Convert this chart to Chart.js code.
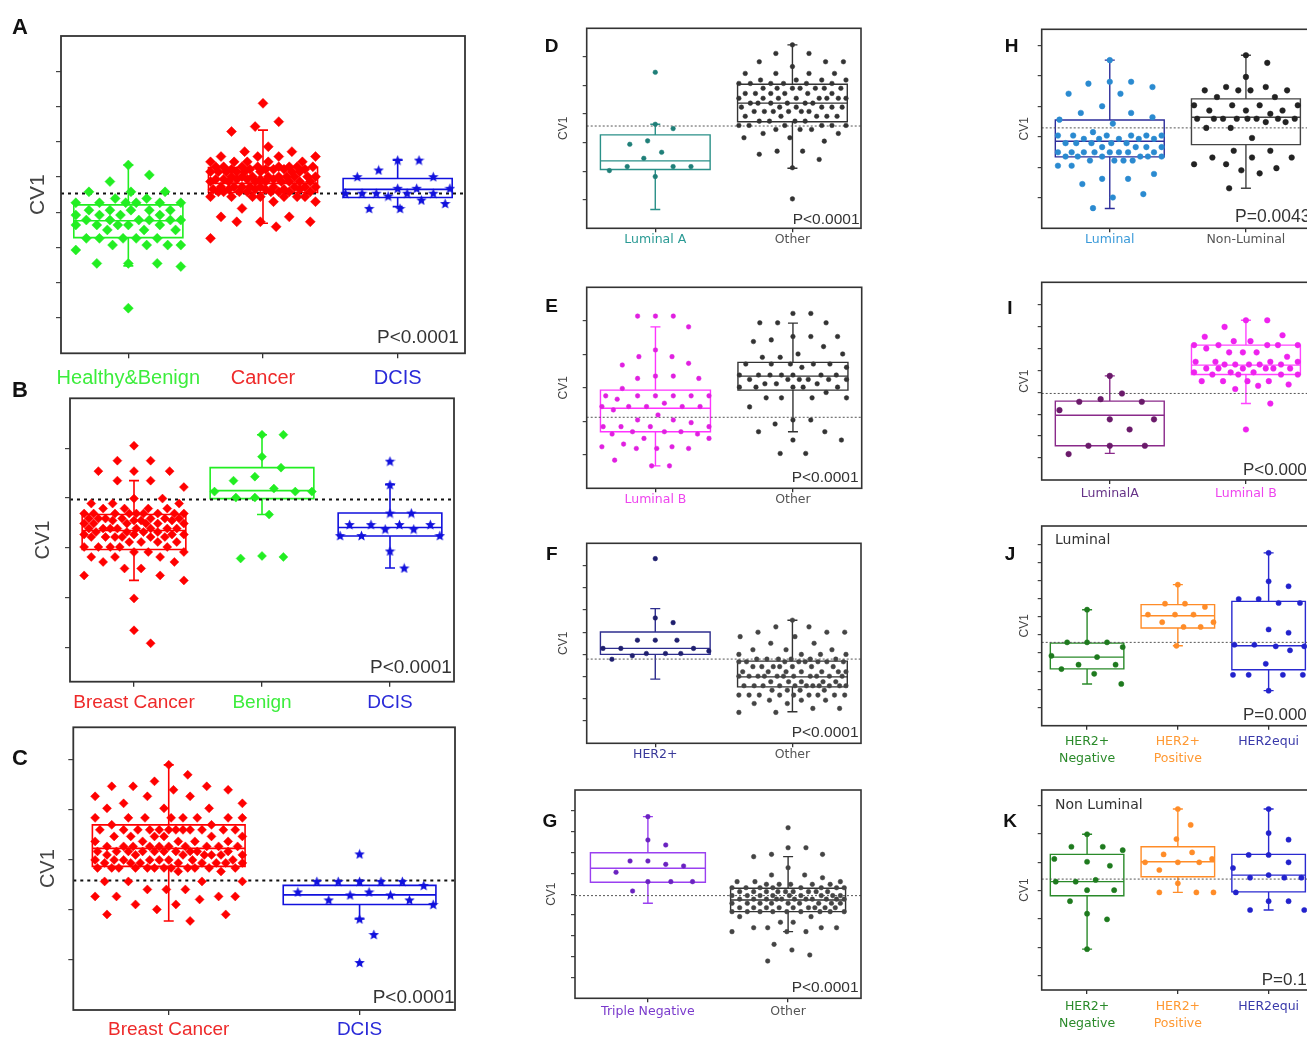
<!DOCTYPE html>
<html>
<head>
<meta charset="utf-8">
<script src="https://cdn.jsdelivr.net/npm/chart.js@4.4.1/dist/chart.umd.min.js"></script>
<style>
  html, body { margin: 0; padding: 0; background: #fff; width: 1307px; height: 1038px; overflow: hidden; }
  body { position: relative; }
  canvas { position: absolute; }
  .letter { position: absolute; font-family: "Liberation Sans", Arial, sans-serif; font-weight: bold; color: #111; line-height: 1; transform: translate(-50%, -50%); }
</style>
</head>
<body>
<script>
// ---- dados (valores de CV1, em unidades de marca do eixo) ----

// A
const aCategories = ['Healthy&Benign', 'Cancer', 'DCIS'];
const aHealthyBenign = [5.34, 5.06, 4.87, 4.58, 4.58, 4.58, 4.39, 4.39, 4.27, 4.27, 4.27, 4.27, 4.27, 4.27,
  4.06, 4.06, 4.06, 4.06, 4.06, 3.92, 3.92, 3.92, 3.92, 3.78, 3.78, 3.78, 3.78, 3.78, 3.78,
  3.64, 3.64, 3.64, 3.64, 3.64, 3.50, 3.50, 3.50, 3.26, 3.26, 3.26, 3.26, 3.26,
  3.07, 3.07, 3.07, 3.07, 2.93, 2.55, 2.55, 2.55, 2.46, 1.28];
const aCancer = [7.09, 6.57, 6.43, 6.29, 5.86, 5.72, 5.72, 5.58, 5.58, 5.58, 5.58,
  5.43, 5.43, 5.43, 5.43, 5.43, 5.29, 5.29, 5.29, 5.29, 5.29, 5.29, 5.29, 5.29,
  5.22, 5.22, 5.22, 5.22, 5.22, 5.22, 5.15, 5.15, 5.15, 5.15, 5.15, 5.15, 5.15, 5.15,
  5.01, 5.01, 5.01, 5.01, 5.01, 5.01, 5.01, 5.01, 5.01, 4.94, 4.94, 4.94, 4.94, 4.94, 4.94,
  4.87, 4.87, 4.87, 4.87, 4.87, 4.87, 4.87, 4.87, 4.72, 4.72, 4.72, 4.72, 4.72, 4.72, 4.72, 4.72, 4.72,
  4.65, 4.65, 4.65, 4.65, 4.65, 4.65, 4.58, 4.58, 4.58, 4.58, 4.58, 4.58, 4.58, 4.58,
  4.44, 4.44, 4.44, 4.44, 4.44, 4.44, 4.44, 4.30, 4.30, 4.11, 3.87, 3.87, 3.73, 3.73, 3.73, 3.59, 3.26];
const aDCIS = [5.48, 5.48, 5.20, 5.01, 5.01, 4.68, 4.68, 4.68, 4.54, 4.54, 4.54, 4.54, 4.54, 4.46, 4.35, 4.25, 4.11, 4.11];
// caixas: [Q1, mediana, Q3, bigode inferior, bigode superior]
const aBoxes = [[3.28, 3.76, 4.21, 2.48, 5.34], [4.56, 4.82, 5.27, 3.69, 6.33], [4.42, 4.65, 4.96, 4.16, 5.48]];
const aCutoff = 4.53;
const aTicks = [1, 2, 3, 4, 5, 6, 7, 8];
const aP = 'P<0.0001';

// B
const bCategories = ['Breast Cancer', 'Benign', 'DCIS'];
const bBreastCancer = [5.05, 4.75, 4.75, 4.54, 4.54, 4.54, 4.35, 4.35, 4.22, 3.99, 3.99, 3.89, 3.89, 3.89,
  3.79, 3.79, 3.79, 3.79, 3.69, 3.69, 3.69, 3.69, 3.69, 3.69, 3.69, 3.69, 3.69,
  3.59, 3.59, 3.59, 3.59, 3.59, 3.59, 3.59, 3.55, 3.55, 3.55, 3.55, 3.49, 3.49, 3.49, 3.49, 3.49, 3.49,
  3.39, 3.39, 3.39, 3.39, 3.39, 3.39, 3.39, 3.39, 3.32, 3.32, 3.32, 3.32, 3.27, 3.27, 3.27, 3.27,
  3.22, 3.22, 3.22, 3.22, 3.22, 3.22, 3.12, 3.12, 3.12, 3.12, 3.02, 3.02, 3.02, 3.02, 3.02,
  2.92, 2.92, 2.92, 2.82, 2.82, 2.82, 2.72, 2.72, 2.59, 2.59, 2.45, 2.45, 2.35, 1.99, 1.35, 1.09];
const bBenign = [5.27, 5.27, 4.83, 4.61, 4.43, 4.35, 4.19, 4.13, 4.13, 4.13, 4.01, 4.01, 3.67, 2.84, 2.82, 2.79];
const bDCIS = [4.74, 4.27, 3.70, 3.70, 3.47, 3.47, 3.47, 3.47, 3.38, 3.38, 3.25, 3.25, 3.25, 2.94, 2.60];
const bBoxes = [[2.97, 3.35, 3.67, 2.35, 4.35], [3.99, 4.15, 4.61, 3.67, 5.27], [3.24, 3.41, 3.70, 2.60, 4.27]];
const bCutoff = 3.97;
const bTicks = [1, 2, 3, 4, 5];
const bP = 'P<0.0001';

// C
const cCategories = ['Breast Cancer', 'DCIS'];
const cBreastCancer = [4.90, 4.70, 4.57, 4.47, 4.47, 4.47, 4.40, 4.40, 4.27, 4.27, 4.27, 4.13, 4.13, 4.03, 4.03, 4.03,
  3.84, 3.84, 3.84, 3.84, 3.84, 3.84, 3.84, 3.84, 3.70, 3.70,
  3.60, 3.60, 3.60, 3.60, 3.60, 3.60, 3.60, 3.60, 3.60, 3.60, 3.60, 3.60,
  3.47, 3.47, 3.47, 3.47, 3.47, 3.47, 3.37, 3.37, 3.37, 3.37, 3.37,
  3.27, 3.27, 3.27, 3.27, 3.27, 3.27, 3.27, 3.27, 3.27, 3.27, 3.17, 3.17, 3.17, 3.17, 3.17, 3.17, 3.17, 3.17, 3.17, 3.17,
  3.10, 3.10, 3.10, 3.10, 3.10, 3.10, 3.10, 3.00, 3.00, 3.00, 3.00, 3.00, 3.00, 3.00, 3.00,
  2.94, 2.94, 2.94, 2.94, 2.94, 2.94, 2.94, 2.94,
  2.84, 2.84, 2.84, 2.84, 2.84, 2.84, 2.84, 2.84, 2.84, 2.84, 2.84, 2.84, 2.77, 2.77,
  2.57, 2.57, 2.57, 2.57, 2.41, 2.41, 2.41, 2.27, 2.27, 2.27, 2.27, 2.21, 2.11, 2.11, 2.01, 1.91, 1.91, 1.78];
const cDCIS = [3.12, 2.57, 2.57, 2.57, 2.57, 2.57, 2.49, 2.36, 2.36, 2.30, 2.30, 2.20, 2.20, 2.11, 1.82, 1.51, 0.95];
const cBoxes = [[2.87, 3.23, 3.70, 1.78, 4.90], [2.11, 2.30, 2.49, 1.82, 2.59]];
const cCutoff = 2.59;
const cTicks = [1, 2, 3, 4, 5];
const cP = 'P<0.0001';

// D
const dCategories = ['Luminal A', 'Other'];
const dLuminalA = [5.46, 3.64, 3.49, 3.06, 2.94, 2.66, 2.45, 2.16, 2.16, 2.16, 2.02, 1.81];
const dOther = [6.42, 6.12, 6.12, 5.83, 5.83, 5.83, 5.66, 5.42, 5.42, 5.42, 5.42, 5.19, 5.19, 5.19, 5.19,
  5.07, 5.07, 5.07, 5.07, 5.07, 5.07, 4.90, 4.90, 4.90, 4.90, 4.90, 4.90, 4.90,
  4.72, 4.72, 4.72, 4.72, 4.72, 4.72, 4.55, 4.55, 4.55, 4.55, 4.55, 4.55, 4.55, 4.55,
  4.38, 4.38, 4.38, 4.38, 4.38, 4.38, 4.24, 4.24, 4.24, 4.24, 4.24, 4.24, 4.09, 4.09, 4.09, 4.09, 4.09, 4.09,
  3.92, 3.92, 3.92, 3.92, 3.92, 3.75, 3.75, 3.75, 3.75, 3.60, 3.60, 3.60, 3.60, 3.60, 3.60,
  3.46, 3.46, 3.46, 3.32, 3.32, 3.17, 3.17, 3.05, 2.70, 2.70, 2.59, 2.41, 2.12, 1.03];
const dBoxes = [[2.06, 2.36, 3.27, 0.66, 3.64], [3.73, 4.38, 5.04, 2.10, 6.42]];
const dCutoff = 3.58;
const dTicks = [1, 2, 3, 4, 5, 6];
const dP = 'P<0.0001';

// E
const eCategories = ['Luminal B', 'Other'];
const eLuminalB = [5.14, 5.14, 5.14, 4.82, 4.13, 3.93, 3.93, 3.73, 3.68, 3.35, 3.35, 3.28, 3.28, 2.98,
  2.76, 2.76, 2.76, 2.76, 2.76, 2.76, 2.66, 2.54, 2.44, 2.44, 2.44, 2.44, 2.44, 2.34, 2.19, 2.04, 2.04, 1.96,
  1.84, 1.84, 1.84, 1.84, 1.69, 1.69, 1.69, 1.62, 1.62, 1.49, 1.49, 1.32, 1.24, 1.24, 1.19, 1.19, 1.19, 0.84, 0.67, 0.67];
const eOther = [5.22, 5.22, 4.94, 4.94, 4.94, 4.53, 4.53, 4.53, 4.43, 4.38, 4.23, 4.01, 4.01, 3.91, 3.91,
  3.71, 3.71, 3.71, 3.71, 3.71, 3.61, 3.61, 3.38, 3.38, 3.38, 3.38, 3.38, 3.38, 3.38,
  3.25, 3.25, 3.25, 3.25, 3.25, 3.25, 3.12, 3.12, 3.12, 3.02, 3.02, 3.02, 3.02, 3.02, 2.86,
  2.70, 2.70, 2.70, 2.70, 2.43, 2.04, 2.04, 1.92, 1.69, 1.69, 1.44, 1.44, 1.04, 1.04];
const eBoxes = [[1.69, 2.39, 2.93, 0.67, 4.82], [2.93, 3.35, 3.76, 1.69, 4.93]];
const eCutoff = 2.12;
const eTicks = [1, 2, 3, 4, 5];
const eP = 'P<0.0001';

// F
const fCategories = ['HER2+', 'Other'];
const fHER2 = [8.31, 5.64, 5.43, 4.64, 4.64, 4.64, 4.27, 4.27, 4.27, 4.15, 4.04, 4.04, 4.04, 3.94, 3.78];
const fOther = [5.54, 5.24, 5.24, 5.00, 5.00, 5.00, 4.80, 4.80, 4.50, 4.50, 4.21, 4.21, 4.21, 4.00, 4.00, 4.00, 4.00,
  3.79, 3.79, 3.79, 3.79, 3.79, 3.79, 3.67, 3.67, 3.67, 3.67, 3.67, 3.67, 3.67, 3.67,
  3.45, 3.45, 3.45, 3.45, 3.45, 3.45, 3.45, 3.22, 3.22, 3.22, 3.22, 3.22, 3.22, 3.22,
  3.02, 3.02, 3.02, 3.02, 3.02, 3.02, 3.02, 3.02, 3.02, 3.02, 3.02, 2.77, 2.77, 2.77, 2.77, 2.77,
  2.59, 2.59, 2.59, 2.59, 2.59, 2.59, 2.59, 2.59, 2.59, 2.59, 2.59, 2.39, 2.39, 2.39, 2.39,
  2.17, 2.17, 2.17, 2.17, 2.17, 2.17, 2.17, 2.17, 2.17, 1.94, 1.94, 1.94, 1.79, 1.79, 1.57, 1.57, 1.39, 1.39];
const fBoxes = [[4.00, 4.27, 5.01, 2.89, 6.06], [2.54, 2.99, 3.70, 1.42, 5.54]];
const fCutoff = 3.79;
const fTicks = [1, 2, 3, 4, 5, 6, 7, 8];
const fP = 'P<0.0001';

// G
const gCategories = ['Triple Negative', 'Other'];
const gTripleNegative = [8.72, 7.60, 7.36, 6.59, 6.59, 6.43, 6.35, 6.05, 5.60, 5.60, 5.60, 5.15];
const gOther = [8.19, 7.23, 7.23, 6.91, 6.91, 6.80, 6.27, 5.92, 5.92, 5.79, 5.60, 5.60, 5.60,
  5.47, 5.47, 5.47, 5.47, 5.47, 5.31, 5.31, 5.31, 5.31, 5.31, 5.31, 5.31, 5.31,
  5.12, 5.12, 5.12, 5.12, 5.12, 5.12, 5.12, 5.12, 5.12, 4.93, 4.93, 4.93, 4.93, 4.93, 4.93, 4.93, 4.93, 4.93,
  4.76, 4.76, 4.76, 4.76, 4.76, 4.76, 4.76, 4.76, 4.76, 4.76, 4.76, 4.56, 4.56, 4.56, 4.56, 4.56, 4.56, 4.56, 4.56, 4.56,
  4.35, 4.35, 4.35, 4.35, 4.35, 4.35, 4.35, 4.35, 4.35, 4.16, 4.16, 4.16, 4.16, 4.16, 4.16, 4.16, 4.16, 4.16,
  3.92, 3.92, 3.65, 3.65, 3.39, 3.39, 3.39, 3.39, 3.20, 3.20, 3.20, 2.59, 2.32, 2.08, 1.79];
const gBoxes = [[5.57, 6.24, 6.99, 4.56, 8.72], [4.16, 4.72, 5.28, 3.20, 6.80]];
const gCutoff = 4.93;
const gTicks = [1, 2, 3, 4, 5, 6, 7, 8, 9];
const gP = 'P<0.0001';

// H
const hCategories = ['Luminal', 'Non-Luminal'];
const hLuminal = [5.51, 4.80, 4.80, 4.74, 4.63, 4.41, 4.41, 4.00, 3.78, 3.78, 3.64, 3.56, 3.43, 3.15,
  3.04, 3.04, 3.04, 3.04, 3.04, 3.04, 2.93, 2.93, 2.93, 2.93, 2.93, 2.79, 2.79, 2.79, 2.79, 2.79,
  2.66, 2.66, 2.66, 2.66, 2.49, 2.49, 2.49, 2.49, 2.49, 2.49, 2.49, 2.49, 2.35, 2.35, 2.35, 2.35, 2.35, 2.35,
  2.22, 2.22, 2.22, 2.22, 2.05, 2.05, 1.78, 1.62, 1.62, 1.45, 1.12, 1.01, 0.66];
const hNonLuminal = [5.67, 5.42, 4.96, 4.63, 4.63, 4.52, 4.52, 4.52, 4.52, 4.30, 4.30, 4.03, 4.03, 4.03, 4.03,
  3.86, 3.86, 3.86, 3.75, 3.59, 3.59, 3.59, 3.59, 3.59, 3.59, 3.59, 3.59, 3.48, 3.48, 3.29, 3.29,
  2.96, 2.54, 2.54, 2.32, 2.32, 2.32, 2.10, 2.10, 1.97, 1.90, 1.80, 1.31];
const hBoxes = [[2.34, 2.85, 3.55, 0.65, 5.51], [2.74, 3.64, 4.24, 1.31, 5.67]];
const hCutoff = 3.29;
const hTicks = [1, 2, 3, 4, 5, 6];
const hP = 'P=0.0043';

// I
const iCategories = ['LuminalA', 'Luminal B'];
const iLuminalA = [4.74, 3.94, 3.68, 3.56, 3.56, 3.18, 2.76, 2.76, 2.30, 1.56, 1.56, 1.56, 1.18];
const iLuminalB = [7.27, 7.27, 6.97, 6.59, 6.52, 6.32, 6.32, 6.14, 6.14, 6.14, 6.14, 6.14, 5.99, 5.81, 5.81, 5.81, 5.61,
  5.38, 5.38, 5.38, 5.38, 5.26, 5.26, 5.26, 5.26, 5.26, 5.08, 5.08, 5.08, 5.08, 5.08, 5.08,
  4.90, 4.90, 4.90, 4.80, 4.80, 4.80, 4.80, 4.50, 4.50, 4.50, 4.50, 4.35, 4.29, 4.14, 3.48, 2.30];
const iBoxes = [[1.56, 2.95, 3.59, 1.21, 4.74], [4.80, 5.23, 6.14, 3.48, 7.27]];
const iCutoff = 3.94;
const iTicks = [1, 2, 3, 4, 5, 6, 7, 8];
const iP = 'P<0.0001';

// J (Luminal)
const jCategories = [['HER2+', 'Negative'], ['HER2+', 'Positive'], 'HER2equi'];
const jNegative = [6.39, 4.59, 4.59, 4.59, 4.33, 3.85, 3.78, 3.36, 3.36, 3.12, 2.86, 2.30];
const jPositive = [7.77, 6.72, 6.72, 6.54, 6.12, 6.12, 6.12, 5.70, 5.70, 5.44, 5.44, 4.40];
const jEqui = [9.52, 7.95, 7.68, 6.98, 6.98, 6.76, 6.76, 5.30, 5.12, 4.46, 4.46, 4.37, 4.37, 4.15, 3.41, 2.80, 2.80, 2.80, 2.80, 1.93];
const jBoxes = [[3.13, 3.78, 4.55, 2.30, 6.39], [5.38, 6.06, 6.67, 4.40, 7.77], [3.08, 4.40, 6.85, 1.93, 9.52]];
const jCutoff = 4.59;
const jTicks = [1, 2, 3, 4, 5, 6, 7, 8, 9, 10];
const jP = 'P=0.0007';

// K (Non Luminal)
const kCategories = [['HER2+', 'Negative'], ['HER2+', 'Positive'], 'HER2equi'];
const kNegative = [5.99, 5.55, 5.55, 5.43, 5.12, 5.02, 4.88, 4.38, 4.32, 4.32, 4.02, 4.02, 3.63, 3.19, 2.99, 1.94];
const kPositive = [6.88, 6.32, 5.82, 5.35, 5.28, 5.12, 5.00, 5.00, 5.00, 4.73, 4.26, 3.94, 3.94, 3.94];
const kEqui = [6.88, 6.03, 5.80, 5.26, 5.26, 5.00, 4.80, 4.55, 4.46, 4.46, 4.46, 3.94, 3.63, 3.63, 3.32, 3.32];
const kBoxes = [[3.82, 4.32, 5.28, 1.94, 5.99], [4.49, 5.02, 5.55, 3.94, 6.88], [3.96, 4.55, 5.28, 3.32, 6.88]];
const kCutoff = 4.41;
const kTicks = [1, 2, 3, 4, 5, 6, 7];
const kP = 'P=0.16';

// ---- estilos comuns ----
const SANS = '"Liberation Sans", Arial, sans-serif';
const DEJA = '"DejaVu Sans", sans-serif';
const RED = '#ff0000', GREEN = '#22ee22', BLUE = '#1111dd';
const GREY = '#333333';
const cutBig = { color: '#111', width: 2, dash: [3, 4] };
const cutSmall = { color: '#555', width: 1, dash: [2, 2] };

// estrela preenchida (o "star" do Chart.js é só traço)
function starImage(color, size) {
  const c = document.createElement('canvas');
  c.width = size; c.height = size;
  const g = c.getContext('2d');
  g.fillStyle = color;
  g.beginPath();
  for (let k = 0; k < 10; k++) {
    const r = k % 2 ? size * 0.22 : size * 0.5;
    const a = -Math.PI / 2 + k * Math.PI / 5;
    g.lineTo(size / 2 + r * Math.cos(a), size / 2 + r * Math.sin(a) + size * 0.05);
  }
  g.closePath();
  g.fill();
  return c;
}

// espalha os pontos na horizontal (beeswarm simples), devolve deslocamentos em px
function swarm(values, radius, pxY, halfPx, spread) {
  const d = radius * 2 + 0.5;
  const cap = d * spread;
  const step = Math.max(1, d / 4);
  const cands = [0];
  for (let o = step; o <= halfPx; o += step) cands.push(o, -o);
  const placed = [];
  const offs = new Array(values.length);
  const order = values.map((v, i) => i).sort((a, b) => values[b] - values[a] || a - b);
  order.forEach(i => {
    const py = values[i] * pxY;
    let best = 0, bestScore = -1;
    for (const c of cands) {
      let m = Infinity;
      for (const q of placed) {
        const dy = q.y - py;
        if (Math.abs(dy) >= cap) continue;
        const dx = q.x - c;
        const dist = Math.sqrt(dx * dx + dy * dy);
        if (dist < m) m = dist;
      }
      const score = Math.min(m, cap);
      if (score > bestScore + 0.01) { bestScore = score; best = c; }
      if (score >= cap) break;
    }
    placed.push({ x: best, y: py });
    offs[i] = best;
  });
  return offs;
}

function addPanel(p) {
  const [cx, cy, cw, ch] = p.canvas;
  const [pl, pt, pr, pb] = p.plot;
  const cv = document.createElement('canvas');
  cv.width = cw; cv.height = ch;
  cv.style.left = cx + 'px';
  cv.style.top = cy + 'px';
  document.body.appendChild(cv);

  const letter = document.createElement('div');
  letter.className = 'letter';
  letter.textContent = p.letter;
  letter.style.left = p.letterAt[0] + 'px';
  letter.style.top = p.letterAt[1] + 'px';
  letter.style.fontSize = p.letterSize + 'px';
  document.body.appendChild(letter);

  const [xMin, xMax] = p.xRange;
  const [yMin, yMax] = p.yRange;
  const pxX = (pr - pl) / (xMax - xMin);
  const pxY = (pb - pt) / (yMax - yMin);
  const halfBox = p.boxWidth / 2;

  const datasets = p.groups.map((g, i) => {
    const offs = swarm(g.values, g.radius, pxY, halfBox * pxX - g.radius * 0.4, p.spread);
    return {
      type: 'scatter',
      data: g.values.map((v, k) => ({ x: i + 1 + offs[k] / pxX, y: v })),
      pointStyle: g.style === 'star' ? starImage(g.color, Math.round(g.radius * 2.5)) : g.style,
      pointRadius: g.radius,
      pointBackgroundColor: g.color,
      pointBorderColor: g.color,
      backgroundColor: g.color,
      borderColor: g.color,
      pointBorderWidth: 0.5,
      order: 1
    };
  });
  datasets.push({
    type: 'line',
    data: [{ x: xMin, y: p.cutoff }, { x: xMax, y: p.cutoff }],
    borderColor: p.cut.color,
    borderWidth: p.cut.width,
    borderDash: p.cut.dash,
    pointRadius: 0,
    fill: false,
    order: 5
  });

  const boxPlugin = {
    id: 'boxes' + p.letter,
    beforeDatasetsDraw(chart) {
      const { ctx, scales: { x, y } } = chart;
      ctx.save();
      ctx.lineWidth = p.boxLine;
      p.groups.forEach((g, i) => {
        const [q1, med, q3, lo, hi] = g.box;
        const c = x.getPixelForValue(i + 1);
        const hw = x.getPixelForValue(i + 1 + halfBox) - c;
        const cap = p.capW / 2;
        const Y = v => y.getPixelForValue(v);
        ctx.strokeStyle = g.boxColor;
        ctx.beginPath();
        ctx.rect(c - hw, Y(q3), 2 * hw, Y(q1) - Y(q3));
        ctx.moveTo(c - hw, Y(med)); ctx.lineTo(c + hw, Y(med));
        ctx.moveTo(c, Y(q3)); ctx.lineTo(c, Y(hi));
        ctx.moveTo(c - cap, Y(hi)); ctx.lineTo(c + cap, Y(hi));
        ctx.moveTo(c, Y(q1)); ctx.lineTo(c, Y(lo));
        ctx.moveTo(c - cap, Y(lo)); ctx.lineTo(c + cap, Y(lo));
        ctx.stroke();
      });
      ctx.restore();
    }
  };

  const framePlugin = {
    id: 'frame' + p.letter,
    afterDatasetsDraw(chart) {
      const { ctx, chartArea: a } = chart;
      ctx.save();
      ctx.strokeStyle = '#333';
      ctx.lineWidth = p.frameLine;
      ctx.strokeRect(a.left, a.top, a.right - a.left, a.bottom - a.top);
      ctx.restore();
    }
  };

  const textPlugin = {
    id: 'texts' + p.letter,
    afterDraw(chart) {
      const ctx = chart.ctx;
      ctx.save();
      ctx.fillStyle = '#333';
      ctx.textAlign = 'left';
      ctx.textBaseline = 'alphabetic';
      ctx.font = p.pSize + 'px ' + SANS;
      ctx.fillText(p.pText, p.pAt[0] - cx, p.pAt[1] - cy);
      if (p.subtitle) {
        ctx.font = '14px ' + DEJA;
        ctx.textBaseline = 'middle';
        ctx.fillText(p.subtitle, p.subAt[0] - cx, p.subAt[1] - cy);
      }
      ctx.restore();
    }
  };

  const lh = p.labelLine || 1.2;
  new Chart(cv, {
    type: 'scatter',
    data: { datasets },
    options: {
      responsive: false,
      animation: false,
      events: [],
      layout: { padding: { left: 0, top: pt - cy, right: cx + cw - pr, bottom: 0 } },
      plugins: { legend: { display: false }, tooltip: { enabled: false } },
      scales: {
        x: {
          type: 'linear', min: xMin, max: xMax,
          afterBuildTicks: s => { s.ticks = p.cats.map((c, i) => ({ value: i + 1 })); },
          afterFit: s => { s.height = ch - (pb - cy); },
          grid: { drawOnChartArea: false, drawTicks: true, tickLength: p.tickLen, color: '#333', lineWidth: 1.3 },
          border: { display: false },
          ticks: {
            autoSkip: false, maxRotation: 0, minRotation: 0,
            padding: p.labelY - pb - p.tickLen - p.labelSize * lh / 2,
            font: { family: p.labelFamily, size: p.labelSize, lineHeight: lh },
            color: ctx => p.catColors[ctx.index],
            callback: (v, i) => p.cats[i]
          }
        },
        y: {
          type: 'linear', min: yMin, max: yMax,
          afterBuildTicks: s => { s.ticks = p.yTicks.map(v => ({ value: v })); },
          afterFit: s => { s.width = pl - cx; },
          grid: { drawOnChartArea: false, drawTicks: true, tickLength: p.tickLen, color: '#444', lineWidth: 1.2 },
          border: { display: false },
          ticks: { display: false },
          title: {
            display: true, text: 'CV1', color: '#444',
            font: { family: SANS, size: p.cvSize },
            padding: { top: p.cvX - cx - p.cvSize * 0.6, bottom: 0 }
          }
        }
      }
    },
    plugins: [boxPlugin, framePlugin, textPlugin]
  });
}

// ---- painéis ----
const bigPanel = { boxLine: 1.6, frameLine: 1.8, tickLen: 5, capW: 10, labelFamily: SANS, labelSize: 19, pSize: 19, cut: cutBig, letterSize: 22, spread: 2.2 };
const smallPanel = { boxLine: 1.4, frameLine: 1.6, tickLen: 4, capW: 10, labelFamily: DEJA, labelSize: 12.5, pSize: 15.5, cut: cutSmall, letterSize: 19, cvSize: 12, spread: 3.5 };

addPanel(Object.assign({}, bigPanel, {
  letter: 'A', letterAt: [20, 27], canvas: [0, 20, 480, 380], plot: [61, 36, 465, 353.3],
  xRange: [0.5, 3.5], yRange: [0, 9], yTicks: aTicks, cutoff: aCutoff, boxWidth: 0.81,
  cats: aCategories, catColors: ['#3ced3c', '#ee2a2a', '#2a2ad8'], labelSize: 20, labelY: 378,
  cvX: 38, cvSize: 21, pText: aP, pAt: [377, 343],
  groups: [
    { values: aHealthyBenign, box: aBoxes[0], color: GREEN, boxColor: GREEN, style: 'rectRot', radius: 5 },
    { values: aCancer, box: aBoxes[1], color: RED, boxColor: RED, style: 'rectRot', radius: 5 },
    { values: aDCIS, box: aBoxes[2], color: BLUE, boxColor: BLUE, style: 'star', radius: 4.5 }
  ]
}));

addPanel(Object.assign({}, bigPanel, {
  letter: 'B', letterAt: [20, 390], canvas: [0, 392, 470, 330], plot: [70, 398.3, 454, 681.7],
  xRange: [0.5, 3.5], yRange: [0.32, 6], yTicks: bTicks, cutoff: bCutoff, boxWidth: 0.81,
  cats: bCategories, catColors: ['#ee2a2a', '#3ced3c', '#2a2ad8'], labelY: 702.7,
  cvX: 43, cvSize: 20, pText: bP, pAt: [370, 673],
  groups: [
    { values: bBreastCancer, box: bBoxes[0], color: RED, boxColor: RED, style: 'rectRot', radius: 4.5 },
    { values: bBenign, box: bBoxes[1], color: GREEN, boxColor: GREEN, style: 'rectRot', radius: 4.5 },
    { values: bDCIS, box: bBoxes[2], color: BLUE, boxColor: BLUE, style: 'star', radius: 4.5 }
  ]
}));

addPanel(Object.assign({}, bigPanel, {
  letter: 'C', letterAt: [20, 758], canvas: [0, 722, 470, 330], plot: [73.3, 727.3, 455, 1010],
  xRange: [0.5, 2.5], yRange: [0, 5.65], yTicks: cTicks, cutoff: cCutoff, boxWidth: 0.8,
  cats: cCategories, catColors: ['#ee2a2a', '#2a2ad8'], labelY: 1030,
  cvX: 48, cvSize: 20, pText: cP, pAt: [372.7, 1003],
  groups: [
    { values: cBreastCancer, box: cBoxes[0], color: RED, boxColor: RED, style: 'rectRot', radius: 4.5 },
    { values: cDCIS, box: cBoxes[1], color: BLUE, boxColor: BLUE, style: 'star', radius: 4.5 }
  ]
}));

addPanel(Object.assign({}, smallPanel, {
  letter: 'D', letterAt: [551.7, 45], canvas: [540, 22, 335, 240], plot: [586.7, 28.3, 861, 228.3],
  xRange: [0.5, 2.5], yRange: [0, 7], yTicks: dTicks, cutoff: dCutoff, boxWidth: 0.8,
  cats: dCategories, catColors: ['#2a9a94', '#555'], labelY: 240,
  cvX: 563.3, pText: dP, pAt: [792.7, 224],
  groups: [
    { values: dLuminalA, box: dBoxes[0], color: '#1f7f78', boxColor: '#2a9088', style: 'circle', radius: 2.3 },
    { values: dOther, box: dBoxes[1], color: GREY, boxColor: GREY, style: 'circle', radius: 2.3 }
  ]
}));

addPanel(Object.assign({}, smallPanel, {
  letter: 'E', letterAt: [551.7, 305], canvas: [540, 282, 335, 240], plot: [586.7, 287.3, 861.7, 488.3],
  xRange: [0.5, 2.5], yRange: [0, 6], yTicks: eTicks, cutoff: eCutoff, boxWidth: 0.8,
  cats: eCategories, catColors: ['#ee44ee', '#555'], labelY: 500,
  cvX: 563.3, pText: eP, pAt: [791.7, 481.7],
  groups: [
    { values: eLuminalB, box: eBoxes[0], color: '#e020e0', boxColor: '#ff33ff', style: 'circle', radius: 2.3 },
    { values: eOther, box: eBoxes[1], color: GREY, boxColor: GREY, style: 'circle', radius: 2.3 }
  ]
}));

addPanel(Object.assign({}, smallPanel, {
  letter: 'F', letterAt: [551.7, 553], canvas: [540, 538, 335, 240], plot: [586.7, 543.3, 861, 743.3],
  xRange: [0.5, 2.5], yRange: [0, 9], yTicks: fTicks, cutoff: fCutoff, boxWidth: 0.8,
  cats: fCategories, catColors: ['#3a3a9a', '#555'], labelY: 755,
  cvX: 563.3, pText: fP, pAt: [791.7, 736.7],
  groups: [
    { values: fHER2, box: fBoxes[0], color: '#1f1f6e', boxColor: '#2e2e8e', style: 'circle', radius: 2.3 },
    { values: fOther, box: fBoxes[1], color: '#444', boxColor: GREY, style: 'circle', radius: 2.3 }
  ]
}));

addPanel(Object.assign({}, smallPanel, {
  letter: 'G', letterAt: [550, 820], canvas: [530, 785, 345, 245], plot: [575, 790, 861, 998.3],
  xRange: [0.48, 2.52], yRange: [0, 10], yTicks: gTicks, cutoff: gCutoff, boxWidth: 0.82,
  cats: gCategories, catColors: ['#7a3acc', '#555'], labelY: 1011.7,
  cvX: 551.7, pText: gP, pAt: [791.7, 992.3],
  groups: [
    { values: gTripleNegative, box: gBoxes[0], color: '#6a22c0', boxColor: '#9a40f0', style: 'circle', radius: 2.3 },
    { values: gOther, box: gBoxes[1], color: '#444', boxColor: GREY, style: 'circle', radius: 2.3 }
  ]
}));

addPanel(Object.assign({}, smallPanel, {
  letter: 'H', letterAt: [1011.7, 45], canvas: [1000, 24, 335, 240], plot: [1041.7, 29.3, 1314, 228.3],
  xRange: [0.5, 2.5], yRange: [0, 6.52], yTicks: hTicks, cutoff: hCutoff, boxWidth: 0.8,
  cats: hCategories, catColors: ['#3a9ad9', '#555'], labelY: 240,
  cvX: 1025, pText: hP, pAt: [1235, 221.7], pSize: 17.5,
  groups: [
    { values: hLuminal, box: hBoxes[0], color: '#2a8ad0', boxColor: '#2d2d9a', style: 'circle', radius: 2.8 },
    { values: hNonLuminal, box: hBoxes[1], color: '#222', boxColor: '#444', style: 'circle', radius: 2.8 }
  ]
}));

addPanel(Object.assign({}, smallPanel, {
  letter: 'I', letterAt: [1010, 306.7], canvas: [1000, 277, 335, 240], plot: [1041.7, 282.3, 1314, 480],
  xRange: [0.5, 2.5], yRange: [0, 9], yTicks: iTicks, cutoff: iCutoff, boxWidth: 0.8,
  cats: iCategories, catColors: ['#663388', '#ee44ee'], labelY: 494,
  cvX: 1025, pText: iP, pAt: [1243, 475], pSize: 17,
  groups: [
    { values: iLuminalA, box: iBoxes[0], color: '#6a1a6a', boxColor: '#8a2a8a', style: 'circle', radius: 2.8 },
    { values: iLuminalB, box: iBoxes[1], color: '#ee22ee', boxColor: '#ff44ff', style: 'circle', radius: 2.8 }
  ]
}));

addPanel(Object.assign({}, smallPanel, {
  letter: 'J', letterAt: [1010, 553], canvas: [1000, 521, 335, 250], plot: [1041.7, 526, 1314, 725.7],
  xRange: [0.5, 3.5], yRange: [0, 11], yTicks: jTicks, cutoff: jCutoff, boxWidth: 0.81,
  cats: jCategories, catColors: ['#2a8a2a', '#ff9933', '#3a3aaa'], labelY: 741.7, labelLine: 1.33,
  cvX: 1025, pText: jP, pAt: [1243, 720], pSize: 17,
  subtitle: 'Luminal', subAt: [1055, 540],
  groups: [
    { values: jNegative, box: jBoxes[0], color: '#1e7a1e', boxColor: '#2a8a2a', style: 'circle', radius: 2.6 },
    { values: jPositive, box: jBoxes[1], color: '#ff8c28', boxColor: '#ff8c28', style: 'circle', radius: 2.6 },
    { values: jEqui, box: jBoxes[2], color: '#2222cc', boxColor: '#2a2ad0', style: 'circle', radius: 2.6 }
  ]
}));

addPanel(Object.assign({}, smallPanel, {
  letter: 'K', letterAt: [1010, 820], canvas: [1000, 785, 335, 260], plot: [1041.7, 790, 1314, 990],
  xRange: [0.5, 3.5], yRange: [0.5, 7.55], yTicks: kTicks, cutoff: kCutoff, boxWidth: 0.81,
  cats: kCategories, catColors: ['#2a8a2a', '#ff9933', '#3a3aaa'], labelY: 1006.7, labelLine: 1.33,
  cvX: 1025, pText: kP, pAt: [1261.7, 985], pSize: 17,
  subtitle: 'Non Luminal', subAt: [1055, 805],
  groups: [
    { values: kNegative, box: kBoxes[0], color: '#1e7a1e', boxColor: '#2a8a2a', style: 'circle', radius: 2.6 },
    { values: kPositive, box: kBoxes[1], color: '#ff8c28', boxColor: '#ff8c28', style: 'circle', radius: 2.6 },
    { values: kEqui, box: kBoxes[2], color: '#2222cc', boxColor: '#2a2ad0', style: 'circle', radius: 2.6 }
  ]
}));
</script>
</body>
</html>
